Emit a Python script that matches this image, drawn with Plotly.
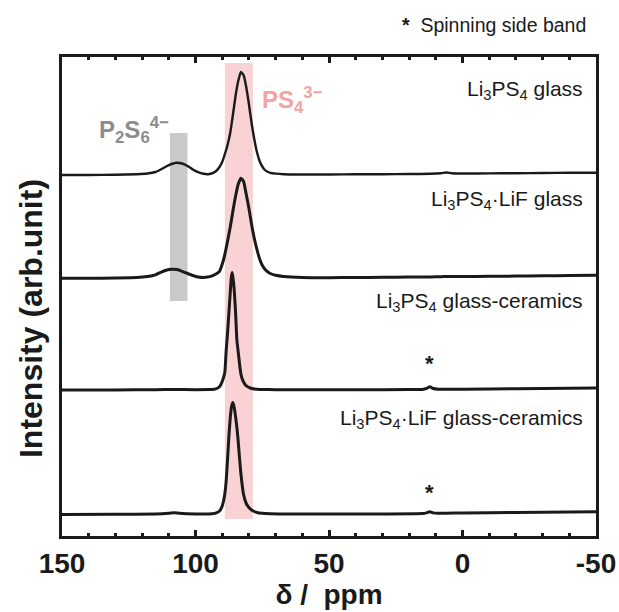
import plotly.graph_objects as go

# ---- data (intensity in arbitrary units above each baseline) ----
ppm_glass = [150, 140, 130, 122, 118, 115, 113, 111, 109, 107, 105, 103, 101, 99, 97, 95.5, 94, 92.5, 91, 90, 89, 88,
             87, 86, 85, 84, 83, 82, 81, 80, 79, 78, 77, 76, 75, 74, 73, 72, 70, 67, 60, 50, 40, 30, 20, 12, 8, 6, 4,
             0, -10, -20, -30, -40, -50]
int_glass = [0, 0, 0.3, 0.8, 1.5, 3, 5.5, 8.5, 11, 12.3, 11.5, 9, 5.5, 2.8, 1.2, 0.8, 1.5, 3.5, 8, 13, 21, 30,
             42, 60, 79, 94, 103, 100, 88, 71, 52, 36, 23, 14, 8.5, 5, 3.2, 2.2, 1.4, 0.8, 0.5, 0.5, 0.7, 0.8, 1.0, 1.2, 1.8, 2.5, 1.8,
             1.5, 1.6, 1.8, 2, 2.2, 2.3]

ppm_lif_glass = [150, 140, 130, 122, 118, 115, 113, 111, 109, 107, 105, 103, 101, 99, 97, 95.5, 94, 92.5, 91, 90, 89, 88,
                 87, 86, 85, 84, 83, 82, 81, 80, 79, 78, 77, 76, 75, 74, 73, 72, 70, 67, 60, 50, 40, 30, 20, 12, 8, 6, 4,
                 0, -10, -20, -30, -40, -50]
int_lif_glass = [0, 0, 0.3, 0.8, 1.8, 3.5, 6, 8, 9, 8.7, 7, 4.8, 2.8, 1.3, 0.8, 1.2, 2.2, 4, 7, 14, 24, 37,
                 51, 67, 82, 94, 100, 97, 84, 70, 54, 40, 29, 19.5, 13, 9, 6.5, 4.8, 3, 1.8, 0.8, 0.6, 0.8, 1, 1.2, 1.4, 1.6, 1.8, 1.8,
                 1.8, 2, 2.2, 2.5, 2.8, 3]

ppm_gc = [150, 130, 115, 108, 100, 95, 93, 92, 91, 90.5, 90, 89.5, 89, 88.5, 88, 87.5, 87, 86.6, 86.3, 86, 85.5, 85,
          84.5, 84, 83.5, 83, 82.5, 82, 81.3, 80.5, 79.5, 78.5, 77, 75, 70, 60, 40, 20, 15, 13.5, 12.2, 11, 9, 0, -20, -50]
int_gc = [0, 0, 0.3, 0.5, 0.3, 0.4, 0.8, 1.5, 3.2, 5.5, 8.5, 12.5, 18, 40, 57, 77, 97, 112, 117.5, 113, 100, 78,
          50, 38, 26, 16, 11, 8, 5, 3.2, 2, 1.2, 0.8, 0.5, 0.3, 0.2, 0.2, 0.4, 0.6, 1.5, 3.3, 1.5, 0.8, 0.8, 1.2, 2]

ppm_lif_gc = [150, 130, 115, 110, 108, 106, 100, 95, 93, 92, 91, 90.5, 90, 89.5, 89, 88.5, 88, 87.5, 87, 86.5, 86, 85.5,
              85, 84.5, 84, 83.5, 83, 82.5, 82, 81, 80, 79, 78, 77, 75, 72, 65, 50, 30, 15, 13.5, 12.2, 11, 9, 0, -20, -50]
int_lif_gc = [0, 0.2, 0.5, 1.2, 1.8, 1.2, 0.5, 0.5, 1, 1.8, 3.5, 5.5, 8.5, 13.5, 21, 34, 55, 78, 96, 108, 112, 107,
              98, 87, 73, 56, 41, 29, 20, 11, 7, 4.5, 3, 2, 1.2, 0.8, 0.5, 0.5, 0.6, 0.9, 1.6, 2.8, 1.6, 1.2, 1.5, 2, 2.8]

series_ppm = [ppm_glass, ppm_lif_glass, ppm_gc, ppm_lif_gc]
series_int = [int_glass, int_lif_glass, int_gc, int_lif_gc]
sample_labels = ["Li<sub>3</sub>PS<sub>4</sub> glass",
                 "Li<sub>3</sub>PS<sub>4</sub>·LiF glass",
                 "Li<sub>3</sub>PS<sub>4</sub> glass-ceramics",
                 "Li<sub>3</sub>PS<sub>4</sub>·LiF glass-ceramics"]
side_band_ppm = [12.4, 12.4]           # spinning side band markers (ceramics)
ps4_band = [89, 78.5]                  # PS4 3- region (ppm)
p2s6_band = [109.6, 103]               # P2S6 4- region (ppm)
x_tick_vals = [150, 100, 50, 0, -50]
x_tick_text = ["150", "100", "50", "0", "-50"]

# ---- layout / style ----
offsets = [361, 257.7, 146, 21.5]
line_widths = [2.4, 3, 3, 3]
label_y = [446, 336, 234, 117]
star_y = [173, 44]
FONT = "Liberation Sans, Arial, sans-serif"
INK = "#1a1a1a"

fig = go.Figure()
for xs, ys, off, lw in zip(series_ppm, series_int, offsets, line_widths):
    fig.add_trace(go.Scatter(x=xs, y=[v + off for v in ys], mode="lines",
                             line=dict(color=INK, width=lw, shape="spline", smoothing=0.5),
                             showlegend=False, hoverinfo="skip"))

fig.add_shape(type="rect", xref="x", yref="y", x0=ps4_band[0], x1=ps4_band[1], y0=17, y1=473,
              fillcolor="#F9D3D3", line_width=0, layer="below")
fig.add_shape(type="rect", xref="x", yref="y", x0=p2s6_band[0], x1=p2s6_band[1], y0=235, y1=403,
              fillcolor="#C9C9C9", line_width=0, layer="below")

for txt, y in zip(sample_labels, label_y):
    fig.add_annotation(x=-46, y=y, xref="x", yref="y", text=txt, showarrow=False, xanchor="right",
                       yanchor="middle", font=dict(family=FONT, size=21, color=INK))
for sx, sy in zip(side_band_ppm, star_y):
    fig.add_annotation(x=sx, y=sy, xref="x", yref="y", text="<b>*</b>", showarrow=False,
                       font=dict(family=FONT, size=22, color=INK))

fig.add_annotation(x=76, y=436, xref="x", yref="y", text="<b>PS<sub>4</sub><sup>3−</sup></b>", showarrow=False,
                   xanchor="left", yanchor="middle", font=dict(family=FONT, size=24, color="#F4A3A3"))
fig.add_annotation(x=137, y=406, xref="x", yref="y", text="<b>P<sub>2</sub>S<sub>6</sub><sup>4−</sup></b>",
                   showarrow=False, xanchor="left", yanchor="middle",
                   font=dict(family=FONT, size=24, color="#8C8C8C"))
fig.add_annotation(x=0.985, y=1.067, xref="paper", yref="paper", text="<b>*</b>  Spinning side band",
                   showarrow=False, xanchor="right", yanchor="middle", font=dict(family=FONT, size=19.5, color=INK))
fig.add_annotation(x=-0.058, y=0.453, xref="paper", yref="paper", text="<b>Intensity (arb.unit)</b>",
                   textangle=-90, showarrow=False, xanchor="center", yanchor="middle",
                   font=dict(family=FONT, size=32, color=INK))

fig.update_layout(
    width=619, height=612, margin=dict(l=62, r=23, t=57, b=76, autoexpand=False),
    paper_bgcolor="white", plot_bgcolor="white",
    xaxis=dict(range=[150, -50], tickvals=x_tick_vals, ticktext=x_tick_text, ticks="inside", ticklen=6,
               tickwidth=2.5, tickcolor=INK, showline=True, linewidth=3, linecolor=INK, mirror="ticks",
               showgrid=False, zeroline=False, ticklabelstandoff=0, automargin=False,
               ticklabeloverflow="allow",
               tickfont=dict(family=FONT, size=28, color=INK, weight="bold"),
               minor=dict(dtick=10, ticks="inside", ticklen=3, tickwidth=2.5, tickcolor=INK, showgrid=False),
               title=dict(text="<b>δ /  ppm</b>", standoff=3, font=dict(family=FONT, size=28, color=INK))),
    yaxis=dict(range=[0, 479], showticklabels=False, ticks="", showline=True, linewidth=3, linecolor=INK,
               mirror=True, showgrid=False, zeroline=False, automargin=False),
)
fig.write_html("out.html", config={"displayModeBar": False},
               post_script="document.body.style.margin='0px';document.body.style.overflow='hidden';")
